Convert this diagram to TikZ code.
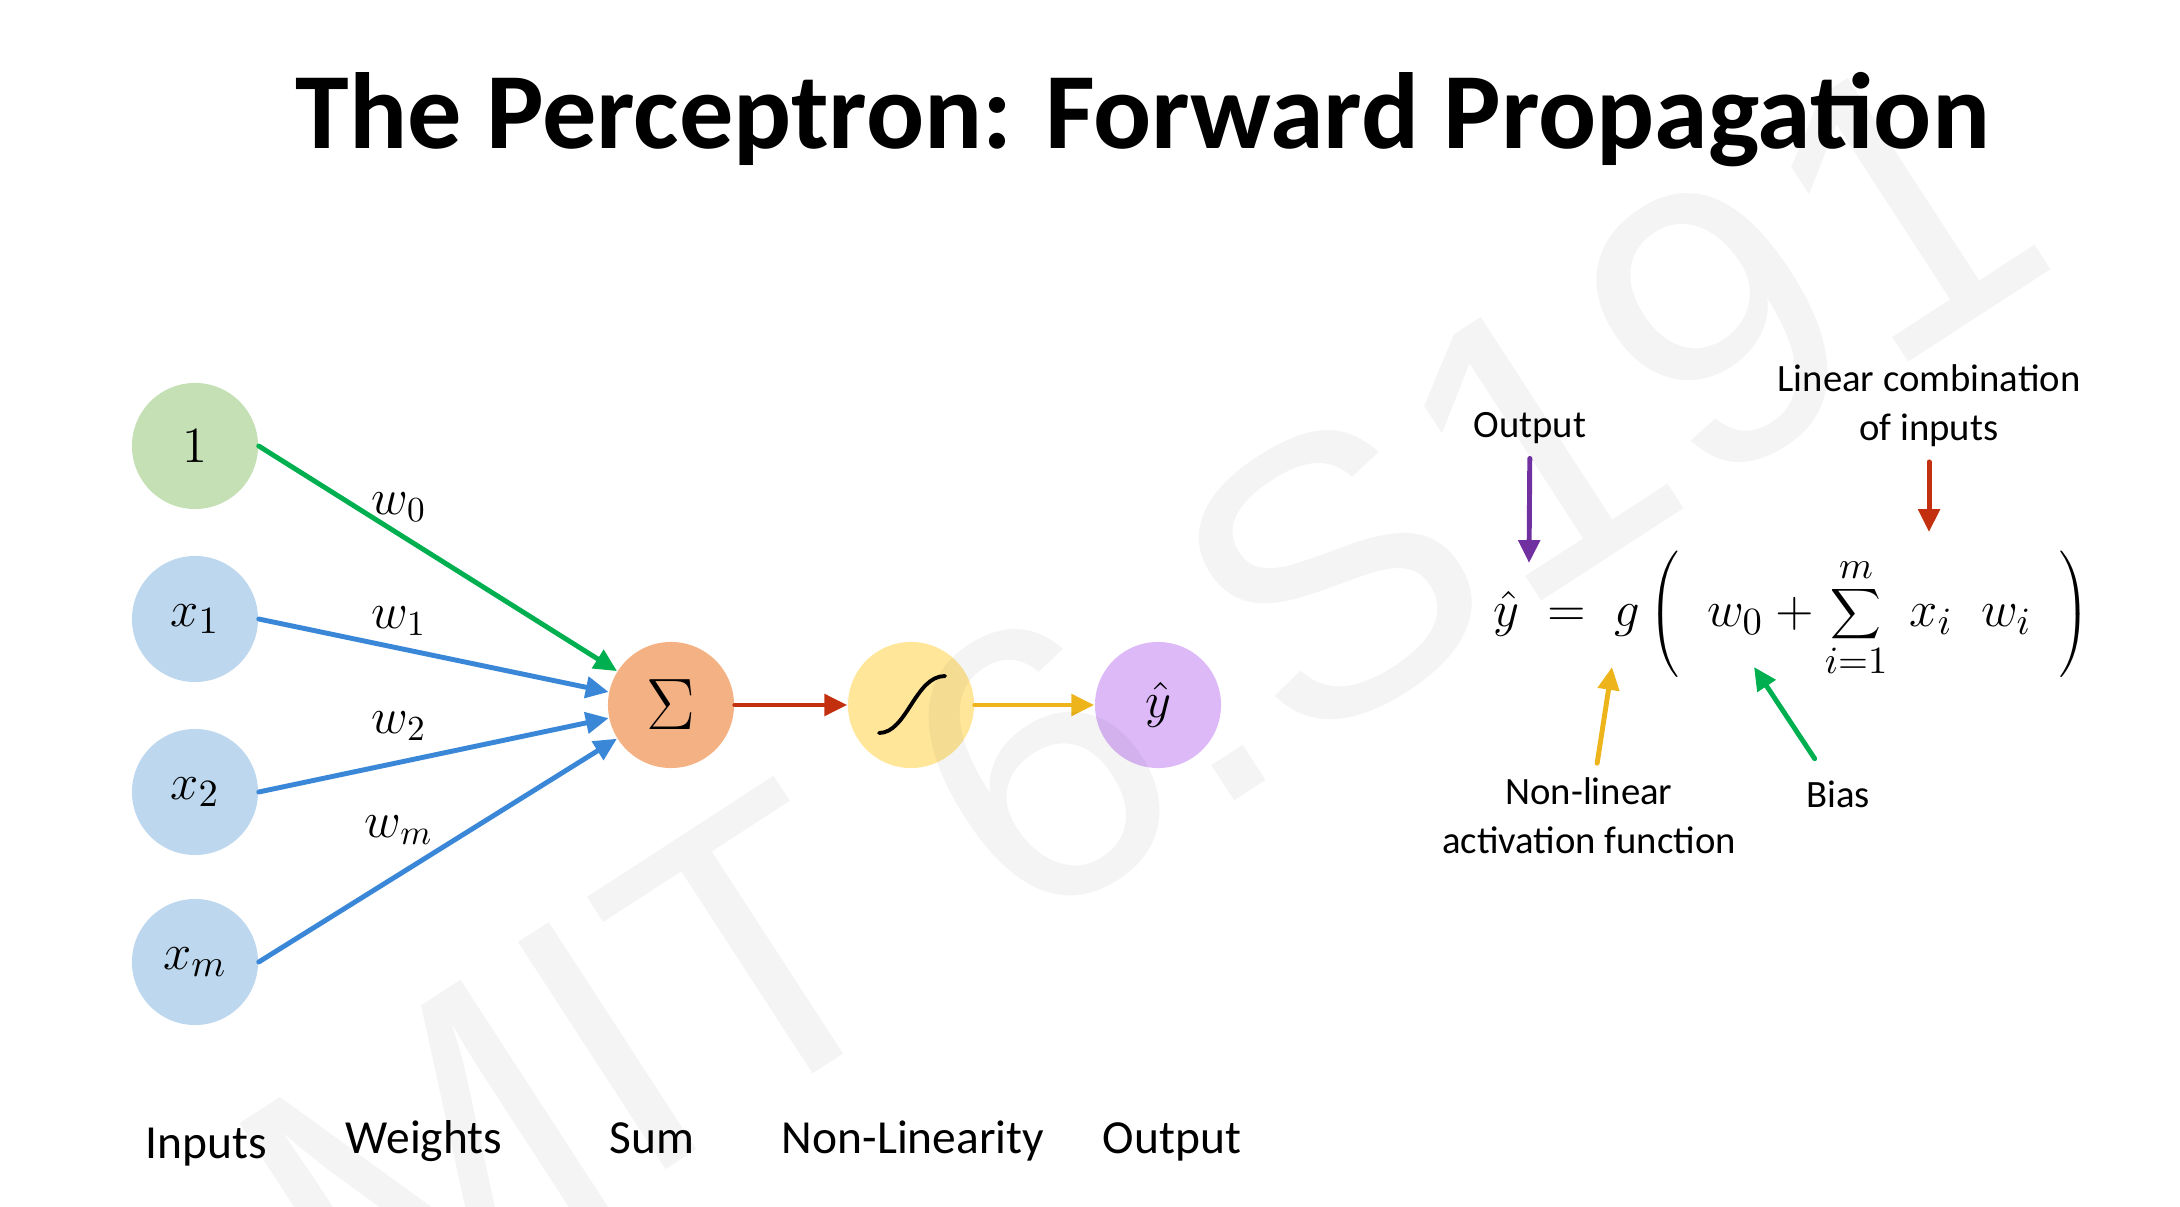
\documentclass[tikz,border=0pt]{standalone}
\usepackage{fontspec}
\setmainfont{Carlito}
\newfontfamily\wmfont{Liberation Sans}
\usetikzlibrary{arrows.meta}

\definecolor{inGreen}{HTML}{C5E0B4}
\definecolor{inBlue}{HTML}{BDD7EE}
\definecolor{sumOrange}{HTML}{F4B183}
\definecolor{actYellow}{HTML}{FFE699}
\definecolor{outPurple}{HTML}{DDBAF7}
\definecolor{arGreen}{HTML}{00B050}
\definecolor{arBlue}{HTML}{3A87D8}
\definecolor{arRed}{HTML}{C3300F}
\definecolor{arYellow}{HTML}{EDB51B}
\definecolor{arPurple}{HTML}{7030A0}

\tikzset{
  neuron/.style={circle,minimum size=1.26cm,inner sep=0pt,font=\fontsize{15}{18}\selectfont},
  flow/.style={line width=1.4pt,-{Triangle[length=6.5pt,width=6pt]}},
  note/.style={font=\fontsize{11}{14}\selectfont,align=center,inner sep=1pt},
  bottomlabel/.style={font=\fontsize{13.5}{16}\selectfont,anchor=base},
}

\begin{document}
\begin{tikzpicture}[line cap=round,line join=round,x=0.01cm,y=-0.01cm]
			\useasboundingbox (0,0) rectangle (2180,1207);
			\node[font=\bfseries\fontsize{30.8}{37}\selectfont,anchor=base] (title) at (1143,149) {The Perceptron: Forward Propagation};
			% neurons
			\node[neuron,fill=inGreen] (one) at (195,446) {$1$};
			\foreach \i/\yy in {1/619,2/792,m/962}
			\node[neuron,fill=inBlue] (x\i) at (195,\yy) {$x_{\i}$};
			\node[neuron,fill=sumOrange,font=\fontsize{20}{24}\selectfont] (sum) at (671,705) {$\Sigma$};
			\node[neuron,fill=actYellow] (act) at (911,705) {};
			\node[neuron,fill=outPurple] (out) at (1158,705) {$\hat{y}$};
			\draw[line width=1.1pt] ([shift={(-32,28)}]act.center) .. controls +(28,0) and +(-30,0) .. ([shift={(34,-29)}]act.center);
			% weighted inputs
			\draw[flow,arGreen] (one.east) -- (sum);
			\foreach \i in {1,2,m}
			\draw[flow,arBlue] (x\i.east) -- (sum);
			\foreach \i/\yy in {0/507,1/621,2/726,m/830}
			\node[font=\fontsize{14}{16}\selectfont] (w\i) at (399,\yy) {$w_{\i}$};
			\draw[flow,arRed] (sum) -- (act);
			\draw[flow,arYellow] (act) -- (out);
			\foreach \txt/\xx/\yy [count=\k] in {Inputs/206/1158,Weights/424/1153,Sum/652/1153,Non-Linearity/913/1153,Output/1172/1153}
			\node[bottomlabel] (cap\k) at (\xx,\yy) {\txt};
			% equation
			\node[font=\fontsize{15}{18}\selectfont] (eq) at (1792,614) {$\displaystyle \hat{y} \;=\; g \left(\;\; w_0 + \sum_{i=1}^{m}\; x_i\;\; w_i \;\;\right)$};
			\node[note] (noteout) at (1530,428) {Output};
			\node[note] (notelin) at (1929,406) {Linear combination\\of inputs};
			\node[note] (noteact) at (1589,816) {Non-linear\\activation function};
			\node[note] (notebias) at (1838,794) {Bias};
			\coordinate (tipout) at (1529,563);
			\coordinate (tiplin) at (1929,532);
			\coordinate (tipact) at (1612,667);
			\coordinate (tipbias) at (1754,667);
			\draw[flow,arPurple,shorten <=3pt] (noteout) -- (tipout);
			\draw[flow,arRed,shorten <=3pt] (notelin) -- (tiplin);
			\draw[flow,arYellow,shorten <=3pt] (noteact) -- (tipact);
			\draw[flow,arGreen,shorten <=6pt] (notebias) -- (tipbias);
			% watermark
			\node[font=\wmfont\fontsize{112}{112}\selectfont,text=black,text opacity=0.045,rotate=33] (wm) at (1140,700) {MIT 6.S191};
\end{tikzpicture}
\end{document}
